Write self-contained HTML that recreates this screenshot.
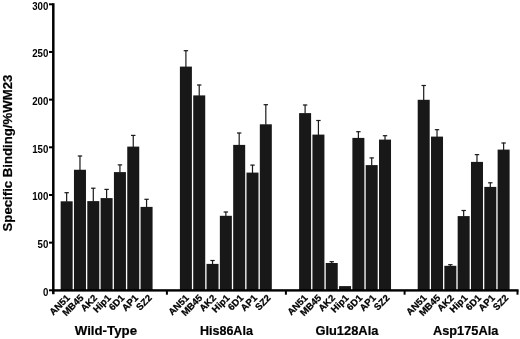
<!DOCTYPE html>
<html><head><meta charset="utf-8"><style>
html,body{margin:0;padding:0;background:#fff;}
body{width:520px;height:339px;overflow:hidden;}
svg{display:block;will-change:transform;}
text{font-family:"Liberation Sans",sans-serif;font-weight:bold;fill:#000;}
</style></head><body>
<svg width="520" height="339" viewBox="0 0 520 339">
<rect x="0" y="0" width="520" height="339" fill="#fff"/>

<rect x="60.65" y="201.30" width="12.00" height="89.00" fill="#181818"/>
<rect x="66.05" y="192.50" width="1.2" height="9.30" fill="#1a1a1a"/>
<rect x="64.45" y="192.10" width="4.4" height="1.2" fill="#1a1a1a"/>
<rect x="73.97" y="169.75" width="12.00" height="120.55" fill="#181818"/>
<rect x="79.37" y="155.80" width="1.2" height="14.45" fill="#1a1a1a"/>
<rect x="77.77" y="155.40" width="4.4" height="1.2" fill="#1a1a1a"/>
<rect x="87.29" y="201.10" width="12.00" height="89.20" fill="#181818"/>
<rect x="92.69" y="188.00" width="1.2" height="13.60" fill="#1a1a1a"/>
<rect x="91.09" y="187.60" width="4.4" height="1.2" fill="#1a1a1a"/>
<rect x="100.61" y="198.10" width="12.00" height="92.20" fill="#181818"/>
<rect x="106.01" y="189.20" width="1.2" height="9.40" fill="#1a1a1a"/>
<rect x="104.41" y="188.80" width="4.4" height="1.2" fill="#1a1a1a"/>
<rect x="113.93" y="172.10" width="12.00" height="118.20" fill="#181818"/>
<rect x="119.33" y="164.70" width="1.2" height="7.90" fill="#1a1a1a"/>
<rect x="117.73" y="164.30" width="4.4" height="1.2" fill="#1a1a1a"/>
<rect x="127.25" y="146.60" width="12.00" height="143.70" fill="#181818"/>
<rect x="132.65" y="135.20" width="1.2" height="11.90" fill="#1a1a1a"/>
<rect x="131.05" y="134.80" width="4.4" height="1.2" fill="#1a1a1a"/>
<rect x="140.57" y="206.90" width="12.00" height="83.40" fill="#181818"/>
<rect x="145.97" y="199.10" width="1.2" height="8.30" fill="#1a1a1a"/>
<rect x="144.37" y="198.70" width="4.4" height="1.2" fill="#1a1a1a"/>
<rect x="179.90" y="66.60" width="12.00" height="223.70" fill="#181818"/>
<rect x="185.30" y="50.50" width="1.2" height="16.60" fill="#1a1a1a"/>
<rect x="183.70" y="50.10" width="4.4" height="1.2" fill="#1a1a1a"/>
<rect x="193.22" y="95.40" width="12.00" height="194.90" fill="#181818"/>
<rect x="198.62" y="84.80" width="1.2" height="11.10" fill="#1a1a1a"/>
<rect x="197.02" y="84.40" width="4.4" height="1.2" fill="#1a1a1a"/>
<rect x="206.54" y="263.90" width="12.00" height="26.40" fill="#181818"/>
<rect x="211.94" y="260.30" width="1.2" height="4.10" fill="#1a1a1a"/>
<rect x="210.34" y="259.90" width="4.4" height="1.2" fill="#1a1a1a"/>
<rect x="219.86" y="215.80" width="12.00" height="74.50" fill="#181818"/>
<rect x="225.26" y="211.80" width="1.2" height="4.50" fill="#1a1a1a"/>
<rect x="223.66" y="211.40" width="4.4" height="1.2" fill="#1a1a1a"/>
<rect x="233.18" y="144.90" width="12.00" height="145.40" fill="#181818"/>
<rect x="238.58" y="132.80" width="1.2" height="12.60" fill="#1a1a1a"/>
<rect x="236.98" y="132.40" width="4.4" height="1.2" fill="#1a1a1a"/>
<rect x="246.50" y="172.60" width="12.00" height="117.70" fill="#181818"/>
<rect x="251.90" y="164.90" width="1.2" height="8.20" fill="#1a1a1a"/>
<rect x="250.30" y="164.50" width="4.4" height="1.2" fill="#1a1a1a"/>
<rect x="259.82" y="124.30" width="12.00" height="166.00" fill="#181818"/>
<rect x="265.22" y="104.50" width="1.2" height="20.30" fill="#1a1a1a"/>
<rect x="263.62" y="104.10" width="4.4" height="1.2" fill="#1a1a1a"/>
<rect x="299.10" y="113.10" width="12.00" height="177.20" fill="#181818"/>
<rect x="304.50" y="104.80" width="1.2" height="8.80" fill="#1a1a1a"/>
<rect x="302.90" y="104.40" width="4.4" height="1.2" fill="#1a1a1a"/>
<rect x="312.42" y="134.60" width="12.00" height="155.70" fill="#181818"/>
<rect x="317.82" y="120.30" width="1.2" height="14.80" fill="#1a1a1a"/>
<rect x="316.22" y="119.90" width="4.4" height="1.2" fill="#1a1a1a"/>
<rect x="325.74" y="263.00" width="12.00" height="27.30" fill="#181818"/>
<rect x="331.14" y="261.50" width="1.2" height="2.00" fill="#1a1a1a"/>
<rect x="329.54" y="261.10" width="4.4" height="1.2" fill="#1a1a1a"/>
<rect x="339.06" y="286.10" width="12.00" height="4.20" fill="#181818"/>
<rect x="352.38" y="137.90" width="12.00" height="152.40" fill="#181818"/>
<rect x="357.78" y="131.50" width="1.2" height="6.90" fill="#1a1a1a"/>
<rect x="356.18" y="131.10" width="4.4" height="1.2" fill="#1a1a1a"/>
<rect x="365.70" y="165.10" width="12.00" height="125.20" fill="#181818"/>
<rect x="371.10" y="157.70" width="1.2" height="7.90" fill="#1a1a1a"/>
<rect x="369.50" y="157.30" width="4.4" height="1.2" fill="#1a1a1a"/>
<rect x="379.02" y="139.60" width="12.00" height="150.70" fill="#181818"/>
<rect x="384.42" y="135.50" width="1.2" height="4.60" fill="#1a1a1a"/>
<rect x="382.82" y="135.10" width="4.4" height="1.2" fill="#1a1a1a"/>
<rect x="417.70" y="99.80" width="12.00" height="190.50" fill="#181818"/>
<rect x="423.10" y="85.30" width="1.2" height="15.00" fill="#1a1a1a"/>
<rect x="421.50" y="84.90" width="4.4" height="1.2" fill="#1a1a1a"/>
<rect x="431.02" y="136.60" width="12.00" height="153.70" fill="#181818"/>
<rect x="436.42" y="129.50" width="1.2" height="7.60" fill="#1a1a1a"/>
<rect x="434.82" y="129.10" width="4.4" height="1.2" fill="#1a1a1a"/>
<rect x="444.34" y="265.80" width="12.00" height="24.50" fill="#181818"/>
<rect x="449.74" y="264.50" width="1.2" height="1.80" fill="#1a1a1a"/>
<rect x="448.14" y="264.10" width="4.4" height="1.2" fill="#1a1a1a"/>
<rect x="457.66" y="216.10" width="12.00" height="74.20" fill="#181818"/>
<rect x="463.06" y="210.30" width="1.2" height="6.30" fill="#1a1a1a"/>
<rect x="461.46" y="209.90" width="4.4" height="1.2" fill="#1a1a1a"/>
<rect x="470.98" y="161.90" width="12.00" height="128.40" fill="#181818"/>
<rect x="476.38" y="154.40" width="1.2" height="8.00" fill="#1a1a1a"/>
<rect x="474.78" y="154.00" width="4.4" height="1.2" fill="#1a1a1a"/>
<rect x="484.30" y="186.90" width="12.00" height="103.40" fill="#181818"/>
<rect x="489.70" y="182.60" width="1.2" height="4.80" fill="#1a1a1a"/>
<rect x="488.10" y="182.20" width="4.4" height="1.2" fill="#1a1a1a"/>
<rect x="497.62" y="149.60" width="12.00" height="140.70" fill="#181818"/>
<rect x="503.02" y="142.80" width="1.2" height="7.30" fill="#1a1a1a"/>
<rect x="501.42" y="142.40" width="4.4" height="1.2" fill="#1a1a1a"/>
<rect x="52.05" y="3.2" width="2.5" height="291.00" fill="#000"/>
<rect x="52.05" y="289.2" width="466.45" height="2.4" fill="#000"/>
<rect x="49" y="289.30" width="4.30" height="2" fill="#000"/>
<text x="0" y="0" font-size="10.2" text-anchor="end" transform="translate(48.3 295.70) scale(0.95 1)">0</text>
<rect x="49" y="241.64" width="4.30" height="2" fill="#000"/>
<text x="0" y="0" font-size="10.2" text-anchor="end" transform="translate(48.3 248.04) scale(0.95 1)">50</text>
<rect x="49" y="193.97" width="4.30" height="2" fill="#000"/>
<text x="0" y="0" font-size="10.2" text-anchor="end" transform="translate(48.3 200.37) scale(0.95 1)">100</text>
<rect x="49" y="146.31" width="4.30" height="2" fill="#000"/>
<text x="0" y="0" font-size="10.2" text-anchor="end" transform="translate(48.3 152.71) scale(0.95 1)">150</text>
<rect x="49" y="98.64" width="4.30" height="2" fill="#000"/>
<text x="0" y="0" font-size="10.2" text-anchor="end" transform="translate(48.3 105.04) scale(0.95 1)">200</text>
<rect x="49" y="50.97" width="4.30" height="2" fill="#000"/>
<text x="0" y="0" font-size="10.2" text-anchor="end" transform="translate(48.3 57.37) scale(0.95 1)">250</text>
<rect x="49" y="3.31" width="4.30" height="2" fill="#000"/>
<text x="0" y="0" font-size="10.2" text-anchor="end" transform="translate(48.3 9.71) scale(0.95 1)">300</text>
<rect x="165.90" y="290.30" width="2" height="4.40" fill="#000"/>
<rect x="284.90" y="290.30" width="2" height="4.40" fill="#000"/>
<rect x="403.60" y="290.30" width="2" height="4.40" fill="#000"/>
<rect x="516.5" y="290.30" width="2" height="4.40" fill="#000"/>
<text x="70.55" y="298.60" font-size="9.5" text-anchor="end" stroke="#000" stroke-width="0.25" transform="rotate(-45 70.55 298.60)">AN51</text>
<text x="84.19" y="298.60" font-size="9.5" text-anchor="end" stroke="#000" stroke-width="0.25" transform="rotate(-45 84.19 298.60)">MB45</text>
<text x="97.83" y="298.60" font-size="9.5" text-anchor="end" stroke="#000" stroke-width="0.25" transform="rotate(-45 97.83 298.60)">AK2</text>
<text x="111.47" y="298.60" font-size="9.5" text-anchor="end" stroke="#000" stroke-width="0.25" transform="rotate(-45 111.47 298.60)">Hip1</text>
<text x="125.11" y="298.60" font-size="9.5" text-anchor="end" stroke="#000" stroke-width="0.25" transform="rotate(-45 125.11 298.60)">6D1</text>
<text x="138.75" y="298.60" font-size="9.5" text-anchor="end" stroke="#000" stroke-width="0.25" transform="rotate(-45 138.75 298.60)">AP1</text>
<text x="152.39" y="298.60" font-size="9.5" text-anchor="end" stroke="#000" stroke-width="0.25" transform="rotate(-45 152.39 298.60)">SZ2</text>
<text x="189.45" y="298.60" font-size="9.5" text-anchor="end" stroke="#000" stroke-width="0.25" transform="rotate(-45 189.45 298.60)">AN51</text>
<text x="203.09" y="298.60" font-size="9.5" text-anchor="end" stroke="#000" stroke-width="0.25" transform="rotate(-45 203.09 298.60)">MB45</text>
<text x="216.73" y="298.60" font-size="9.5" text-anchor="end" stroke="#000" stroke-width="0.25" transform="rotate(-45 216.73 298.60)">AK2</text>
<text x="230.37" y="298.60" font-size="9.5" text-anchor="end" stroke="#000" stroke-width="0.25" transform="rotate(-45 230.37 298.60)">Hip1</text>
<text x="244.01" y="298.60" font-size="9.5" text-anchor="end" stroke="#000" stroke-width="0.25" transform="rotate(-45 244.01 298.60)">6D1</text>
<text x="257.65" y="298.60" font-size="9.5" text-anchor="end" stroke="#000" stroke-width="0.25" transform="rotate(-45 257.65 298.60)">AP1</text>
<text x="271.29" y="298.60" font-size="9.5" text-anchor="end" stroke="#000" stroke-width="0.25" transform="rotate(-45 271.29 298.60)">SZ2</text>
<text x="308.35" y="298.60" font-size="9.5" text-anchor="end" stroke="#000" stroke-width="0.25" transform="rotate(-45 308.35 298.60)">AN51</text>
<text x="321.99" y="298.60" font-size="9.5" text-anchor="end" stroke="#000" stroke-width="0.25" transform="rotate(-45 321.99 298.60)">MB45</text>
<text x="335.63" y="298.60" font-size="9.5" text-anchor="end" stroke="#000" stroke-width="0.25" transform="rotate(-45 335.63 298.60)">AK2</text>
<text x="349.27" y="298.60" font-size="9.5" text-anchor="end" stroke="#000" stroke-width="0.25" transform="rotate(-45 349.27 298.60)">Hip1</text>
<text x="362.91" y="298.60" font-size="9.5" text-anchor="end" stroke="#000" stroke-width="0.25" transform="rotate(-45 362.91 298.60)">6D1</text>
<text x="376.55" y="298.60" font-size="9.5" text-anchor="end" stroke="#000" stroke-width="0.25" transform="rotate(-45 376.55 298.60)">AP1</text>
<text x="390.19" y="298.60" font-size="9.5" text-anchor="end" stroke="#000" stroke-width="0.25" transform="rotate(-45 390.19 298.60)">SZ2</text>
<text x="427.25" y="298.60" font-size="9.5" text-anchor="end" stroke="#000" stroke-width="0.25" transform="rotate(-45 427.25 298.60)">AN51</text>
<text x="440.89" y="298.60" font-size="9.5" text-anchor="end" stroke="#000" stroke-width="0.25" transform="rotate(-45 440.89 298.60)">MB45</text>
<text x="454.53" y="298.60" font-size="9.5" text-anchor="end" stroke="#000" stroke-width="0.25" transform="rotate(-45 454.53 298.60)">AK2</text>
<text x="468.17" y="298.60" font-size="9.5" text-anchor="end" stroke="#000" stroke-width="0.25" transform="rotate(-45 468.17 298.60)">Hip1</text>
<text x="481.81" y="298.60" font-size="9.5" text-anchor="end" stroke="#000" stroke-width="0.25" transform="rotate(-45 481.81 298.60)">6D1</text>
<text x="495.45" y="298.60" font-size="9.5" text-anchor="end" stroke="#000" stroke-width="0.25" transform="rotate(-45 495.45 298.60)">AP1</text>
<text x="509.09" y="298.60" font-size="9.5" text-anchor="end" stroke="#000" stroke-width="0.25" transform="rotate(-45 509.09 298.60)">SZ2</text>
<text x="105.89" y="335.2" font-size="13" text-anchor="middle" stroke="#000" stroke-width="0.2" textLength="62.3" lengthAdjust="spacingAndGlyphs">Wild-Type</text>
<text x="226.40" y="335.2" font-size="13" text-anchor="middle" stroke="#000" stroke-width="0.2" textLength="53.0" lengthAdjust="spacingAndGlyphs">His86Ala</text>
<text x="346.90" y="335.2" font-size="13" text-anchor="middle" stroke="#000" stroke-width="0.2" textLength="63.0" lengthAdjust="spacingAndGlyphs">Glu128Ala</text>
<text x="465.66" y="335.2" font-size="13" text-anchor="middle" stroke="#000" stroke-width="0.2" textLength="65.3" lengthAdjust="spacingAndGlyphs">Asp175Ala</text>
<text x="12.4" y="153.05" font-size="13.2" text-anchor="middle" stroke="#000" stroke-width="0.2" transform="rotate(-90 12.4 153.05)">Specific Binding/%WM23</text>
</svg>
</body></html>
